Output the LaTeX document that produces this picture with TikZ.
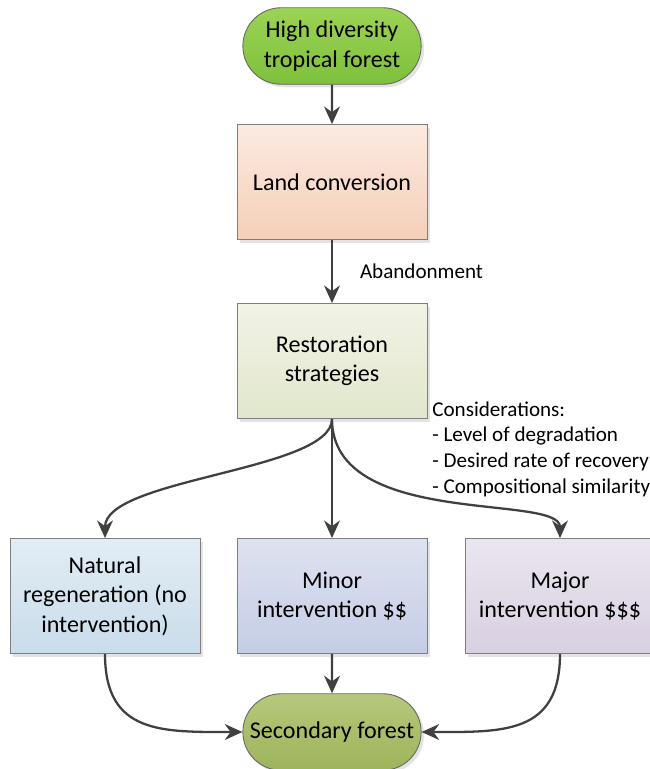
\documentclass[tikz,border=0pt]{standalone}
\usepackage{fontspec}
\setmainfont{Carlito}
\usetikzlibrary{arrows.meta, shapes.misc, shadows}

\definecolor{linegray}{HTML}{404040}
\definecolor{edgegray}{HTML}{7F7F7F}
\definecolor{forestA}{HTML}{9CD355}
\definecolor{forestB}{HTML}{7DC03B}
\definecolor{landA}{HTML}{FBEAE1}
\definecolor{landB}{HTML}{F5CFB8}
\definecolor{restorA}{HTML}{F1F3E6}
\definecolor{restorB}{HTML}{E1E7CC}
\definecolor{naturalA}{HTML}{E2EDF5}
\definecolor{naturalB}{HTML}{C9DCEA}
\definecolor{minorA}{HTML}{DEE2F0}
\definecolor{minorB}{HTML}{C5CDE6}
\definecolor{majorA}{HTML}{EAE6EF}
\definecolor{majorB}{HTML}{D8CFE1}
\definecolor{secondA}{HTML}{B5C87C}
\definecolor{secondB}{HTML}{9EB45B}

\begin{document}
\begin{tikzpicture}[
    >=Stealth,
    flow/.style={line width=1.3pt, linegray, -{Stealth[length=10pt, width=9pt]}},
    box/.style={rectangle, draw=edgegray, line width=0.5pt, minimum width=3.8cm,
        minimum height=2.3cm, align=center,
        font=\fontsize{13.7}{16.7}\selectfont,
        drop shadow={opacity=0.22, shadow xshift=0.06cm, shadow yshift=-0.06cm}},
    term/.style={rounded rectangle, draw=edgegray!80!black, line width=0.5pt,
        minimum width=3.8cm, minimum height=1.53cm, align=center,
        font=\fontsize{13.7}{16.7}\selectfont,
        drop shadow={opacity=0.22, shadow xshift=0.06cm, shadow yshift=-0.06cm}},
    note/.style={font=\fontsize{12}{14.75}\selectfont, align=left, inner sep=0pt},
]

%--- Canvas (650 x 769 px at 0.02 cm/px) ---
\useasboundingbox (0,0) rectangle (13,-15.38);

%--- Column positions ---
\def\Mx{6.64}   % middle column
\def\Lx{2.10}   % left column
\def\Rx{11.20}  % right column

%--- Top: forest and conversion ---
\node[term, top color=forestA, bottom color=forestB] (forest)
    at (\Mx,-0.92) {High diversity\\tropical forest};
\node[box, top color=landA, bottom color=landB] (land)
    at (\Mx,-3.64) {Land conversion};

%--- Restoration strategies ---
\node[box, top color=restorA, bottom color=restorB] (restor)
    at (\Mx,-7.22) {Restoration\\strategies};
\node[note, anchor=north west] (consid) at (8.64,-8.02)
    {Considerations:\\- Level of degradation\\- Desired rate of recovery\\- Compositional similarity};

%--- Strategy boxes ---
\node[box, top color=naturalA, bottom color=naturalB] (natural)
    at (\Lx,-11.92) {Natural\\regeneration (no\\intervention)};
\node[box, top color=minorA, bottom color=minorB] (minor)
    at (\Mx,-11.92) {Minor\\intervention \$\$};
\node[box, top color=majorA, bottom color=majorB] (major)
    at (\Rx,-11.92) {Major\\intervention \$\$\$};

%--- Outcome ---
\node[term, top color=secondA, bottom color=secondB] (second)
    at (\Mx,-14.64) {Secondary forest};

%--- Connectors ---
\draw[flow] (forest) -- (land);
\draw[flow] (land) -- (restor)
    node[midway, right=0.42cm, font=\fontsize{12}{14.75}\selectfont, black] (aband) {Abandonment};
\draw[flow] (restor.south) .. controls +(0,-1.04) and +(0,1.2) .. (natural.north);
\draw[flow] (restor) -- (minor);
\draw[flow] (restor.south) .. controls +(0,-2.2) and +(0,0.9) .. (major.north);
\draw[flow] (natural.south) to[out=-90, in=180, looseness=1.3] (second.west);
\draw[flow] (minor) -- (second);
\draw[flow] (major.south) to[out=-90, in=0, looseness=1.3] (second.east);

\end{tikzpicture}
\end{document}
